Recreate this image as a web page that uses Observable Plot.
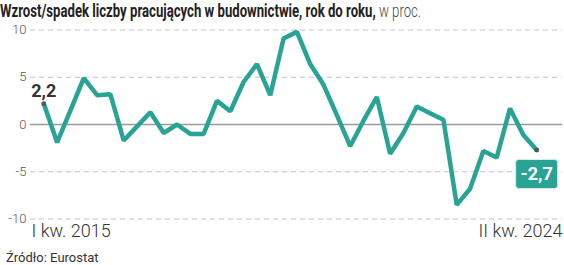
<!DOCTYPE html>
<html><head><meta charset="utf-8">
<script src="https://cdn.jsdelivr.net/npm/d3@7"></script>
<script src="https://cdn.jsdelivr.net/npm/@observablehq/plot@0.6"></script>
<style>
body{margin:0;background:#fff;font-family:Roboto,sans-serif;}
#wrap{width:564px;height:265px;position:relative;overflow:hidden;background:#fff;}
#title{position:absolute;left:0;top:0.5px;white-space:nowrap;transform-origin:0 0;font-size:18.5px;line-height:20px;color:#222;}
#title b{font-weight:700;}
#title span{font-weight:300;color:#444;}
#chart{position:absolute;left:0;top:24px;}
#source{position:absolute;left:6px;top:249.5px;font-size:13px;line-height:15px;color:#333;white-space:nowrap;}
</style></head>
<body>
<div id="wrap">
  <div id="title"><b>Wzrost/spadek liczby pracujących w budownictwie, rok do roku,</b> <span>w proc.</span></div>
  <div id="chart"></div>
  <div id="source">Źródło: Eurostat</div>
</div>
<script>
// Data (quarterly, I kw. 2015 – II kw. 2024), % change y/y
const values = [2.2, -1.9, 1.5, 4.9, 3.1, 3.2, -1.7, -0.2, 1.3, -0.9,
                0.0, -1.0, -1.0, 2.5, 1.4, 4.5, 6.4, 3.1, 9.1, 9.8,
                6.4, 4.2, 1.0, -2.3, 0.4, 2.9, -3.1, -0.9, 1.9, 1.2,
                0.5, -8.5, -6.8, -2.8, -3.5, 1.7, -1.1, -2.7];
const romans = ["I", "II", "III", "IV"];
const years = [2015, 2016, 2017, 2018, 2019, 2020, 2021, 2022, 2023, 2024];
const quarters = years.flatMap(y => romans.map(r => `${r} kw. ${y}`)).slice(0, values.length);
const yTicks = [-10, -5, 0, 5, 10];
const gridValues = [-10, -5, 5, 10];
const xLabels = ["I kw. 2015", "II kw. 2024"];

const data = values.map((v, i) => ({i, v, q: quarters[i]}));
const first = data[0], last = data[data.length - 1];
const fmt = v => String(v).replace(".", ",");
const teal = "#28a394";

const boxSymbol = {
  draw(ctx) {
    const w = 21, h = 14.5, r = 3;
    ctx.moveTo(-w + r, -h);
    ctx.lineTo(w - r, -h);
    ctx.arcTo(w, -h, w, -h + r, r);
    ctx.lineTo(w, h - r);
    ctx.arcTo(w, h, w - r, h, r);
    ctx.lineTo(-w + r, h);
    ctx.arcTo(-w, h, -w, h - r, r);
    ctx.lineTo(-w, -h + r);
    ctx.arcTo(-w, -h, -w + r, -h, r);
    ctx.closePath();
  }
};

const chart = Plot.plot({
  width: 564, height: 222,
  marginLeft: 30, marginRight: 2, marginTop: 5.5, marginBottom: 27.5,
  x: {domain: [-1, 38.94], axis: null},
  y: {domain: [-10, 10], axis: null},
  style: {fontFamily: "Roboto, sans-serif", background: "transparent", overflow: "visible"},
  marks: [
    Plot.ruleY(gridValues, {stroke: "#c4c4c4", strokeWidth: 1, strokeDasharray: "5,4"}),
    Plot.ruleY([0], {stroke: "#9a9a9a", strokeWidth: 1.5}),
    Plot.axisY(yTicks, {label: null, tickSize: 0, tickPadding: 4, fontSize: 13, fontWeight: 300, color: "#555", tickFormat: d => String(d)}),
    Plot.line(data, {x: "i", y: "v", stroke: teal, strokeWidth: 4.5, strokeLinejoin: "miter"}),
    Plot.dot([first, last], {x: "i", y: "v", symbol: "square", r: 2.3, fill: "#555", stroke: null}),
    Plot.text([first], {x: "i", y: "v", text: d => fmt(d.v), dy: -12, fontSize: 18, fontWeight: 700, fill: "#333"}),
    Plot.dot([last], {x: "i", y: "v", dy: 24, symbol: boxSymbol, r: 10, fill: teal, stroke: "#d6eeea", strokeWidth: 1}),
    Plot.text([last], {x: "i", y: "v", text: d => fmt(d.v), dy: 24, fontSize: 18, fontWeight: 700, fill: "white"}),
    Plot.text([xLabels[0]], {frameAnchor: "bottom-left", text: d => d, dy: 18, dx: 1, fontSize: 18, fontWeight: 300, fill: "#333", textAnchor: "start"}),
    Plot.text([xLabels[1]], {frameAnchor: "bottom-right", text: d => d, dy: 18, dx: 0, fontSize: 18, fontWeight: 300, fill: "#333", textAnchor: "end"})
  ]
});
document.getElementById("chart").appendChild(chart);

const t = document.getElementById("title");
const w = t.getBoundingClientRect().width;
t.style.transform = `scaleX(${421 / w})`;
</script>
</body></html>
